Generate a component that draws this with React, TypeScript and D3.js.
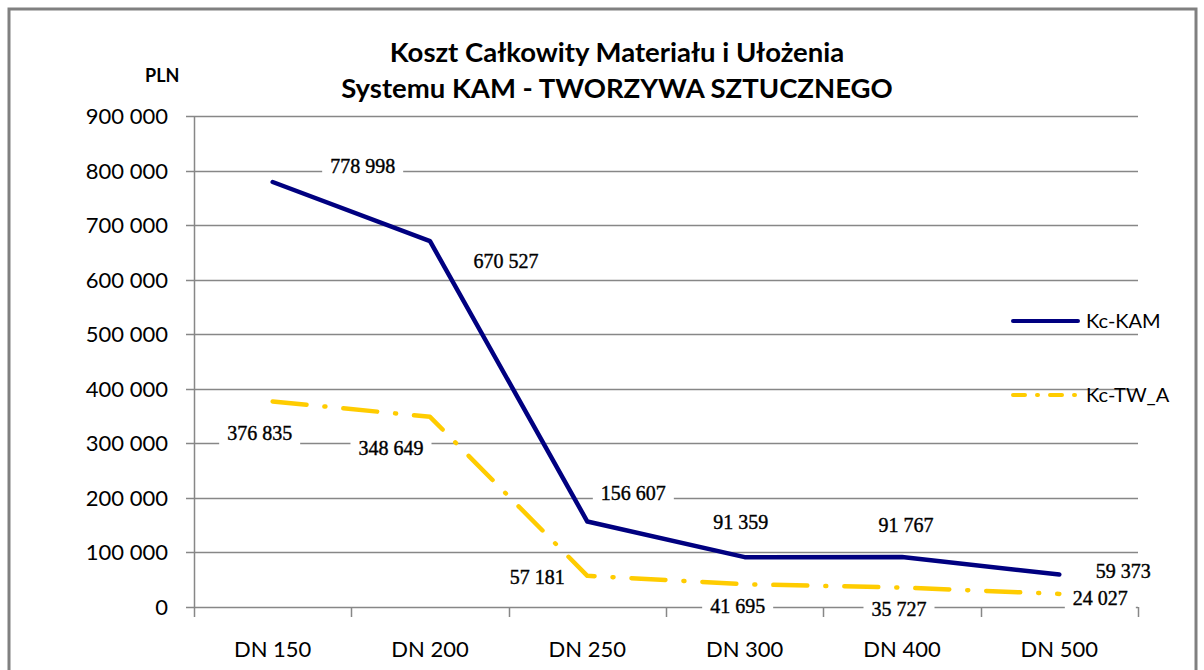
import React, { useEffect, useRef } from 'react';
import * as d3 from 'd3';

const categories = ['DN 150', 'DN 200', 'DN 250', 'DN 300', 'DN 400', 'DN 500'];
const kcKam = [778998, 670527, 156607, 91359, 91767, 59373];
const kcTwA = [376835, 348649, 57181, 41695, 35727, 24027];
const yTicks = [0, 100000, 200000, 300000, 400000, 500000, 600000, 700000, 800000, 900000];

// manual label placement (Excel-style), offsets from the point
const kamLabelOffsets = [[90, -15], [76, 21], [46, -28], [-4, -34], [4, -31], [64, -3]];
const twLabelOffsets = [[-13, 33], [-39, 32], [-50, 2], [-7, 23], [-3, 22], [41, 5]];

const App: React.FC = () => {
  const svgRef = useRef<SVGSVGElement>(null);

  useEffect(() => {
    if (!svgRef.current) return;
    const svg = d3.select(svgRef.current);
    svg.selectAll('*').remove();

    const width = 1204;
    const height = 670;
    const sans = 'Lato, "Open Sans", sans-serif';
    const serif = '"Liberation Serif", "DejaVu Serif", serif';
    const grid = '#878787';

    const fmt = d3.formatLocale({ thousands: ' ', grouping: [3], decimal: ',', currency: ['', ''] }).format(',d');

    const x = d3.scaleBand().domain(categories).range([194, 1138]);
    const y = d3.scaleLinear().domain([0, 900000]).range([607, 116]);
    const cx = (i: number) => x(categories[i])! + x.bandwidth() / 2;

    svg.append('rect').attr('width', width).attr('height', height).attr('fill', '#fff');

    // outer frame
    svg.append('rect')
      .attr('x', 9).attr('y', 9)
      .attr('width', 1187).attr('height', 680)
      .attr('fill', 'none')
      .attr('stroke', '#808080')
      .attr('stroke-width', 3);

    // gridlines + y labels
    const gy = svg.append('g');
    gy.selectAll('line')
      .data(yTicks)
      .join('line')
      .attr('x1', 186).attr('x2', 1138)
      .attr('y1', d => Math.round(y(d)) + 0.5).attr('y2', d => Math.round(y(d)) + 0.5)
      .attr('stroke', grid)
      .attr('stroke-width', 1.5);
    gy.selectAll('text')
      .data(yTicks)
      .join('text')
      .attr('x', 168)
      .attr('y', d => y(d) + 8)
      .attr('text-anchor', 'end')
      .attr('font-family', sans)
      .attr('font-size', 22)
      .attr('fill', '#000')
      .text(d => fmt(d));

    // y axis
    svg.append('line')
      .attr('x1', 194.5).attr('x2', 194.5)
      .attr('y1', y(900000)).attr('y2', y(0))
      .attr('stroke', grid).attr('stroke-width', 1.5);

    // x axis
    const bounds = [...categories.map(c => x(c)!), 1138];
    svg.append('g')
      .selectAll('line')
      .data(bounds)
      .join('line')
      .attr('x1', d => Math.round(d) + 0.5).attr('x2', d => Math.round(d) + 0.5)
      .attr('y1', y(0)).attr('y2', y(0) + 10)
      .attr('stroke', grid).attr('stroke-width', 1.5);
    svg.append('g')
      .selectAll('text')
      .data(categories)
      .join('text')
      .attr('x', (_, i) => cx(i))
      .attr('y', 657)
      .attr('text-anchor', 'middle')
      .attr('font-family', sans)
      .attr('font-size', 22)
      .text(d => d);

    // series
    const line = d3.line<number>().x((_, i) => cx(i)).y(d => y(d));
    svg.append('path')
      .attr('d', line(kcTwA))
      .attr('fill', 'none')
      .attr('stroke', '#FFCC00')
      .attr('stroke-width', 4.5)
      .attr('stroke-linecap', 'round')
      .attr('stroke-linejoin', 'round')
      .attr('stroke-dasharray', '34,18,1,18');
    svg.append('path')
      .attr('d', line(kcKam))
      .attr('fill', 'none')
      .attr('stroke', '#000080')
      .attr('stroke-width', 4.5)
      .attr('stroke-linejoin', 'round')
      .attr('stroke-linecap', 'round');

    // data labels
    const drawLabels = (vals: number[], offs: number[][]) => {
      const g = svg.append('g');
      vals.forEach((v, i) => {
        const lx = cx(i) + offs[i][0];
        const ly = y(v) + offs[i][1];
        const t = g.append('text')
          .attr('x', lx).attr('y', ly + 6)
          .attr('text-anchor', 'middle')
          .attr('font-family', serif)
          .attr('font-size', 20)
          .attr('fill', '#000')
          .attr('stroke', '#000')
          .attr('stroke-width', 0.4)
          .text(fmt(v));
        const w = (t.node() as SVGTextElement).getComputedTextLength();
        g.insert('rect', 'text')
          .attr('x', lx - w / 2 - 8).attr('y', ly - 12)
          .attr('width', w + 16).attr('height', 24)
          .attr('fill', '#fff');
      });
    };
    drawLabels(kcKam, kamLabelOffsets);
    drawLabels(kcTwA, twLabelOffsets);

    // legend
    const legend = [
      { name: 'Kc-KAM', color: '#000080', dash: null, yy: 321 },
      { name: 'Kc-TW_A', color: '#FFCC00', dash: '12,12,1,12', yy: 395 },
    ];
    legend.forEach(l => {
      svg.append('line')
        .attr('x1', 1013).attr('x2', 1078)
        .attr('y1', l.yy).attr('y2', l.yy)
        .attr('stroke', l.color)
        .attr('stroke-width', 4)
        .attr('stroke-linecap', 'round')
        .attr('stroke-dasharray', l.dash);
      svg.append('text')
        .attr('x', 1086).attr('y', l.yy + 7)
        .attr('font-family', sans)
        .attr('font-size', 20)
        .text(l.name);
    });

    // title
    const title = svg.append('text')
      .attr('text-anchor', 'middle')
      .attr('font-family', sans)
      .attr('font-size', 27.5)
      .attr('font-weight', 'bold')
      .attr('fill', '#000');
    title.append('tspan').attr('x', 617).attr('y', 62).text('Koszt Całkowity Materiału i Ułożenia');
    title.append('tspan').attr('x', 617).attr('y', 98).text('Systemu KAM - TWORZYWA SZTUCZNEGO');

    svg.append('text')
      .attr('x', 145).attr('y', 82)
      .attr('font-family', sans)
      .attr('font-size', 18)
      .attr('font-weight', 'bold')
      .text('PLN');
  }, []);

  return (
    <div style={{ position: 'absolute', left: 0, top: 0 }}>
      <svg ref={svgRef} width={1204} height={670} style={{ display: 'block' }}></svg>
    </div>
  );
};

export default App;
